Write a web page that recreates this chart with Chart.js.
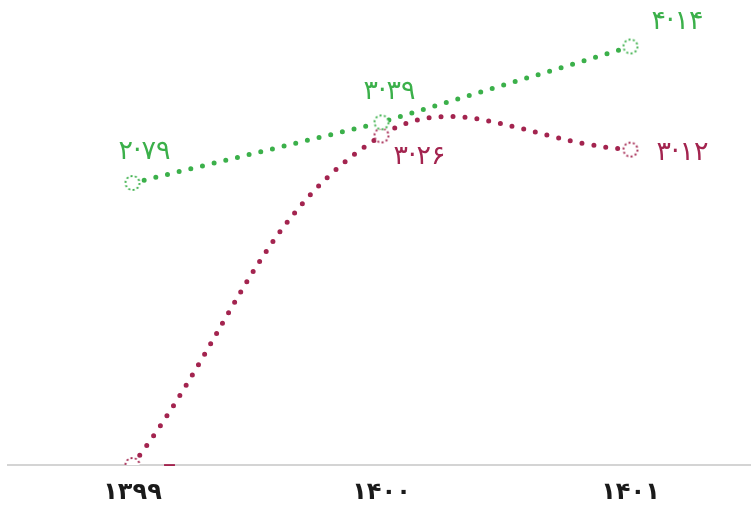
<!DOCTYPE html>
<html lang="fa">
<head>
    <meta charset="UTF-8">
    <title>Chart</title>
    <script src="https://cdn.jsdelivr.net/npm/chart.js@4.4.1/dist/chart.umd.min.js"></script>
    <style>
        body { margin: 0; background: #fff; overflow: hidden; }
        .wrap { position: relative; width: 755px; height: 508px; }
    </style>
</head>
<body>
    <div class="wrap"><canvas id="chart"></canvas></div>
    <script>
        // Data
        const years = ['۱۳۹۹', '۱۴۰۰', '۱۴۰۱'];
        const greenValues = [2.79, 3.39, 4.14];
        const redValues = [0, 3.26, 3.12];

        const GREEN = '#3bb04a';
        const RED = '#a3244f';

        // label placement (pixels from the point)
        const greenOffsets = [[12, -31], [8, -30], [47, -25]];
        const redOffsets = [[37, 0], [38, 22], [52, 3]];

        function toFa(v) {
            if (v === 0) return '–';
            const d = '۰۱۲۳۴۵۶۷۸۹';
            return v.toFixed(2).replace(/\d/g, c => d[c]).replace('.', '·');
        }

        // dotted hollow circle used as point marker
        function marker(color) {
            const c = document.createElement('canvas');
            c.width = 18; c.height = 18;
            const g = c.getContext('2d');
            g.beginPath();
            g.arc(9, 9, 7, 0, Math.PI * 2);
            g.fillStyle = '#fff';
            g.fill();
            g.setLineDash([2, 2.4]);
            g.lineWidth = 1.8;
            g.strokeStyle = color;
            g.stroke();
            return c;
        }

        const labelPlugin = {
            id: 'valueLabels',
            afterDatasetsDraw(chart) {
                const ctx = chart.ctx;
                chart.data.datasets.forEach((ds, i) => {
                    const meta = chart.getDatasetMeta(i);
                    meta.data.forEach((pt, j) => {
                        const off = ds.labelOffsets[j];
                        ctx.save();
                        ctx.fillStyle = ds.borderColor;
                        ctx.font = '27px "DejaVu Sans"';
                        ctx.textAlign = 'center';
                        ctx.textBaseline = 'middle';
                        ctx.fillText(toFa(ds.data[j]), pt.x + off[0], pt.y + off[1]);
                        ctx.restore();
                    });
                });
            }
        };

        new Chart(document.getElementById('chart'), {
            type: 'line',
            data: {
                labels: years,
                datasets: [{
                    data: greenValues,
                    borderColor: GREEN,
                    borderWidth: 5,
                    borderDash: [0, 12],
                    borderCapStyle: 'round',
                    tension: 0,
                    pointStyle: marker(GREEN),
                    labelOffsets: greenOffsets
                }, {
                    data: redValues,
                    borderColor: RED,
                    borderWidth: 5,
                    borderDash: [0, 12],
                    borderCapStyle: 'round',
                    tension: 0.4,
                    pointStyle: marker(RED),
                    labelOffsets: redOffsets
                }]
            },
            options: {
                responsive: true,
                maintainAspectRatio: false,
                animation: false,
                layout: { autoPadding: false, padding: { left: 8, right: 0, top: 0, bottom: 0 } },
                plugins: {
                    legend: { display: false },
                    tooltip: { enabled: false }
                },
                scales: {
                    x: {
                        offset: true,
                        grid: { display: false, drawTicks: false },
                        border: { display: true, color: '#d4d4d4', width: 2 },
                        ticks: {
                            color: '#1a1a1a',
                            padding: 13,
                            font: { family: 'DejaVu Sans', size: 24, weight: 'bold' }
                        },
                        afterFit(scale) { scale.height = 43; }
                    },
                    y: {
                        display: false,
                        min: 0,
                        max: 4.6
                    }
                }
            },
            plugins: [labelPlugin]
        });
    </script>
</body>
</html>
